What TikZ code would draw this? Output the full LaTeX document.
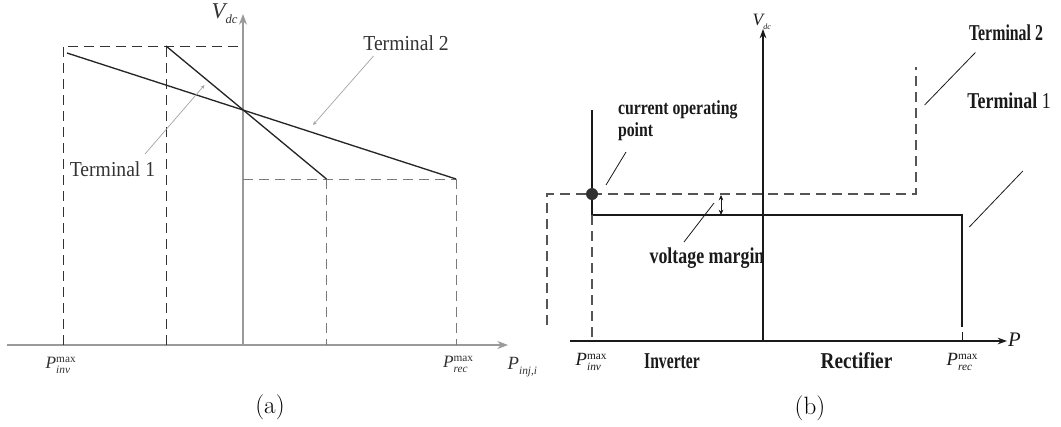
\documentclass[tikz,border=0pt]{standalone}
\usepackage{fontspec}
\usetikzlibrary{arrows.meta}
\newfontfamily\tms{Liberation Serif}

\definecolor{axgray}{HTML}{9A9A9A}
\definecolor{inkA}{HTML}{262626}
\definecolor{txtA}{HTML}{333333}
\definecolor{dashdark}{HTML}{333333}
\definecolor{dashlight}{HTML}{7A7A7A}
\definecolor{leadgray}{HTML}{A0A0A0}
\definecolor{inkB}{HTML}{1A1A1A}
\definecolor{dashB}{HTML}{555555}

% P with "max" superscript and an italic subscript
\newcommand{\Pmx}[2]{{\fontsize{#1}{#1}\tms\itshape P}\rlap{\raisebox{-4pt}{\fontsize{8.5}{8.5}\tms\itshape #2}}\raisebox{4pt}{\fontsize{8.5}{8.5}\tms max}}
\newcommand{\boldlab}[2]{\scalebox{#1}[1]{\fontsize{17}{19}\tms\bfseries #2}}
\newcommand{\boldsm}[2]{\scalebox{#1}[1]{\fontsize{15}{17}\tms\bfseries #2}}

\begin{document}
\begin{tikzpicture}[x=0.75pt,y=-0.75pt,
  every node/.style={inner sep=0pt, outer sep=0pt},
  axisA/.style={draw=axgray, line width=0.8pt, -{Stealth[length=8pt,width=6pt]}},
  axisB/.style={draw=inkB, line width=1pt, -{Stealth[length=7pt,width=5pt]}},
  dashedA/.style={draw=dashdark, line width=0.7pt, dash pattern=on 7.5pt off 4.5pt},
  dashedAl/.style={draw=dashlight, line width=0.7pt, dash pattern=on 7.5pt off 4.5pt},
  dashedB/.style={draw=dashB, line width=0.8pt, dash pattern=on 7.5pt off 4.5pt},
  curveA/.style={draw=inkA, line width=1pt},
  curveB/.style={draw=inkB, line width=1pt},
  leaderA/.style={draw=leadgray, line width=0.5pt, -{Stealth[length=3pt,width=2.5pt]}},
  leaderB/.style={draw=inkB, line width=0.6pt},
  textA/.style={text=txtA, anchor=base},
  textB/.style={text=inkB, anchor=base},
  caption/.style={font=\fontsize{18.8}{22}\selectfont, text=black}
]
\useasboundingbox (0,0) rectangle (1061,426);

%% ---------------- panel (a): droop characteristics ----------------
\coordinate (aO) at (243,345);
\coordinate (aXl) at (7,345);
\coordinate (aXr) at (508,345);
\coordinate (aYt) at (243,14);
\draw[axisA] (aXl) -- (aXr);
\draw[axisA] (aO) -- (aYt);

% limit boxes
\coordinate (aTL) at (63,46);
\coordinate (aTM) at (166,46);
\coordinate (aTA) at (243,46);
\coordinate (aBL) at (63,345);
\coordinate (aBM) at (166,345);
\coordinate (aLA) at (243,179);
\coordinate (aLM) at (326.5,179);
\coordinate (aLR) at (456,179);
\coordinate (aBM2) at (326.5,345);
\coordinate (aBR) at (456,345);
\draw[dashedA] (aBL) -- (aTL) -- (aTA);
\draw[dashedA] (aBM) -- (aTM);
\draw[dashedAl] (aLA) -- (aLR);
\draw[dashedAl] (aLM) -- (aBM2);
\draw[dashedAl] (aLR) -- (aBR);

% droop lines
\coordinate (t2a) at (67,53);
\draw[curveA] (aTM) -- (aLM);
\draw[curveA] (t2a) -- (aLR);

% labels
\node[textA, font=\fontsize{16}{18}\tms] (aT2) at (406,50) {\scalebox{0.92}[1]{Terminal 2}};
\node[textA, font=\fontsize{16}{18}\tms] (aT1) at (112.5,176) {\scalebox{0.92}[1]{Terminal 1}};
\coordinate (aT2s) at (373.5,56);
\coordinate (aT2e) at (313,125);
\coordinate (aT1s) at (145,154);
\coordinate (aT1e) at (204.5,85);
\draw[leaderA] (aT2s) -- (aT2e);
\draw[leaderA] (aT1s) -- (aT1e);

\node[text=txtA, anchor=base west] (aV) at (211.7,18) {{\fontsize{17}{17}\tms\itshape V}\raisebox{-4pt}{\fontsize{9.5}{9.5}\tms\itshape dc}};
\node[text=txtA, anchor=base west] (aPinv) at (45.6,368) {\Pmx{13}{inv}};
\node[text=txtA, anchor=base west] (aPrec) at (443,367) {\Pmx{13}{rec}};
\node[text=txtA, anchor=base west] (aPinj) at (507.7,369) {{\fontsize{14}{14}\tms\itshape P}\raisebox{-4pt}{\fontsize{8.5}{8.5}\tms\itshape inj,i}};

\node[caption] (capa) at (270,407) {(a)};

%% ---------------- panel (b): voltage margin control ----------------
\coordinate (bO) at (763,341);
\coordinate (bXl) at (570,341);
\coordinate (bXr) at (1007,341);
\coordinate (bYt) at (763,29);
\draw[axisB] (bXl) -- (bXr);
\draw[axisB] (bO) -- (bYt);

% terminal 2 (dashed)
\coordinate (b2a) at (547,325);
\coordinate (b2b) at (547,194);
\coordinate (b2c) at (916,194);
\coordinate (b2d) at (916,67);
\draw[dashedB] (b2a) -- (b2b) -- (b2c) -- (b2d);

% terminal 1 (solid)
\coordinate (b1top) at (592,110);
\coordinate (b1a) at (592,215);
\coordinate (b1ax) at (592,341);
\coordinate (b1b) at (962,215);
\coordinate (b1c) at (962,327);
\coordinate (b1d) at (962,332);
\coordinate (b1e) at (962,341);
\draw[curveB] (b1top) -- (b1a) -- (b1b) -- (b1c);
\draw[dashedB] (b1a) -- (b1ax);
\draw[curveB, line width=0.6pt] (b1d) -- (b1e);

% operating point and voltage margin
\node[circle, fill=inkB!90, minimum size=9pt] (op) at (592,194) {};
\coordinate (vmT) at (721,195);
\coordinate (vmB) at (721,215);
\draw[draw=inkB, line width=0.6pt, {Stealth[length=4pt,width=3.5pt]}-{Stealth[length=4pt,width=3.5pt]}] (vmT) -- (vmB);

% labels
\node[textB, anchor=base west] (cop) at (618,114)
  {\rlap{\raisebox{-16.5pt}{\boldsm{0.79}{point}}}\boldsm{0.79}{current operating}};
\coordinate (opS) at (626,152);
\coordinate (opE) at (606,185);
\draw[leaderB] (opS) -- (opE);

\node[textB] (vm) at (707,263) {\boldlab{0.79}{voltage margin}};
\coordinate (vmS) at (684,242);
\coordinate (vmE) at (714,203);
\draw[leaderB] (vmS) -- (vmE);

\node[textB] (bT2) at (1006,40) {\boldlab{0.70}{Terminal 2}};
\coordinate (bT2s) at (975.4,52.5);
\coordinate (bT2e) at (924.6,105);
\draw[leaderB] (bT2s) -- (bT2e);

\node[textB] (bT1) at (1009,108) {\scalebox{0.79}[1]{\fontsize{17}{19}\tms{\bfseries Terminal} 1}};
\coordinate (bT1s) at (1022.8,171);
\coordinate (bT1e) at (969.3,227);
\draw[leaderB] (bT1s) -- (bT1e);

\node[textB] (inv) at (672,368) {\boldlab{0.69}{Inverter}};
\node[textB] (rec) at (856.5,368) {\boldlab{0.85}{Rectifier}};

\node[text=inkB, anchor=base west] (bV) at (752.7,25) {{\fontsize{13}{13}\tms\itshape V}\raisebox{-3pt}{\fontsize{6}{6}\tms\itshape dc}};
\node[text=inkB, anchor=base west] (bPinv) at (575.7,365) {\Pmx{14}{inv}};
\node[text=inkB, anchor=base west] (bPrec) at (946.7,365) {\Pmx{14}{rec}};
\node[text=inkB, anchor=base west] (bP) at (1008,346.7) {{\fontsize{15.5}{15.5}\tms\itshape P}};

\node[caption] (capb) at (810,408) {(b)};
\end{tikzpicture}
\end{document}
